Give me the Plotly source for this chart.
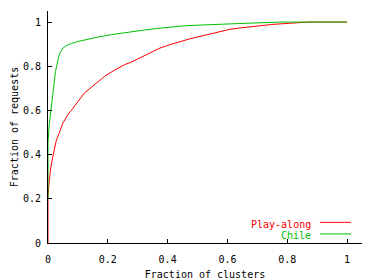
import plotly.graph_objects as go

# Play-along CDF (red)
play_x = [0, 0, 0.003, 0.006, 0.009, 0.013, 0.016, 0.019, 0.023, 0.027, 0.033, 0.039,
          0.044, 0.050, 0.058, 0.066, 0.078, 0.089, 0.100, 0.122, 0.145, 0.167, 0.189,
          0.212, 0.234, 0.256, 0.279, 0.301, 0.340, 0.374, 0.407, 0.441, 0.474, 0.508,
          0.541, 0.575, 0.608, 0.641, 0.675, 0.714, 0.748, 0.803, 0.873, 1.0]
play_y = [0, 0.21, 0.264, 0.309, 0.339, 0.369, 0.392, 0.414, 0.437, 0.46, 0.482, 0.505,
          0.525, 0.543, 0.561, 0.581, 0.6, 0.618, 0.64, 0.679, 0.704, 0.731, 0.754,
          0.774, 0.792, 0.807, 0.819, 0.834, 0.858, 0.882, 0.897, 0.912, 0.924, 0.935,
          0.946, 0.957, 0.967, 0.973, 0.979, 0.985, 0.989, 0.994, 1.0, 1.0]

# Chile CDF (green)
chile_x = [0, 0, 0.003, 0.008, 0.013, 0.018, 0.022, 0.025, 0.030, 0.035, 0.041, 0.050,
           0.061, 0.078, 0.100, 0.133, 0.167, 0.212, 0.256, 0.290, 0.323, 0.371, 0.418,
           0.457, 0.521, 0.582, 0.675, 0.786, 1.0]
chile_y = [0.2, 0.45, 0.52, 0.58, 0.656, 0.70, 0.74, 0.777, 0.807, 0.84, 0.862, 0.882,
           0.893, 0.903, 0.912, 0.923, 0.932, 0.943, 0.952, 0.957, 0.964, 0.972, 0.978,
           0.983, 0.987, 0.991, 0.995, 1.0, 1.0]

tick_vals = [0, 0.2, 0.4, 0.6, 0.8, 1]
tick_text = ["0", "0.2", "0.4", "0.6", "0.8", "1"]

series_names = ["Play-along", "Chile"]
series_colors = ["#ff0000", "#00c000"]

FONT = "DejaVu Sans Mono"

fig = go.Figure()
fig.add_trace(go.Scatter(x=play_x, y=play_y, mode="lines",
                         line=dict(color=series_colors[0], width=1), showlegend=False))
fig.add_trace(go.Scatter(x=chile_x, y=chile_y, mode="lines",
                         line=dict(color=series_colors[1], width=1), showlegend=False))

axis_common = dict(
    range=[0, 1.05], tickvals=tick_vals, ticktext=tick_text,
    ticks="inside", ticklen=4, tickcolor="black", tickwidth=1,
    showline=True, linecolor="black", linewidth=1,
    showgrid=False, zeroline=False, mirror=False, automargin=False,
    tickfont=dict(family=FONT, size=10, color="black"),
)

fig.update_layout(
    width=380, height=280,
    margin=dict(l=48, r=18, t=11, b=37),
    plot_bgcolor="white", paper_bgcolor="white",
    font=dict(family=FONT, size=10, color="black"),
    xaxis=dict(**axis_common, ticklabelstandoff=7,
               title=dict(text="Fraction of clusters", standoff=6,
                          font=dict(family=FONT, size=10, color="black"))),
    yaxis=dict(**axis_common, ticklabelstandoff=4,
               title=dict(text="Fraction of requests", standoff=2,
                          font=dict(family=FONT, size=10, color="black"))),
)

# gnuplot-style key: right-aligned text then sample line
key_text_y = [0.080, 0.033]
key_line_y = [0.089, 0.039]
for name, color, ty, ly in zip(series_names, series_colors, key_text_y, key_line_y):
    fig.add_annotation(xref="paper", yref="paper", x=0.843, y=ty, text=name,
                       showarrow=False, xanchor="right", yanchor="middle",
                       font=dict(family=FONT, size=10, color=color))
    fig.add_shape(type="line", xref="paper", yref="paper", x0=0.866, x1=0.965,
                  y0=ly, y1=ly, line=dict(color=color, width=1))

fig.write_html("out.html")
